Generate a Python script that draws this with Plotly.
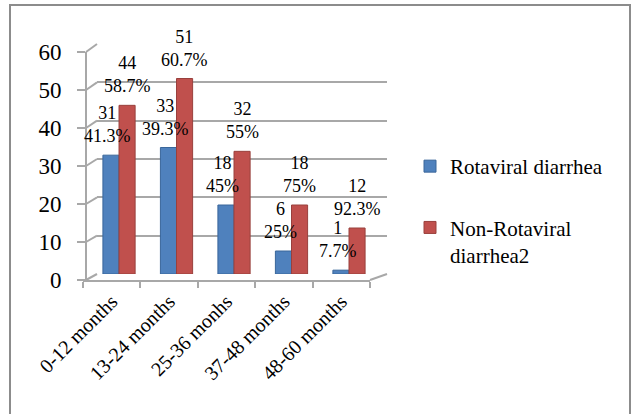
import plotly.graph_objects as go

# ---- data ----
categories = ["0-12 months", "13-24 months", "25-36 monhs", "37-48 months", "48-60 months"]
rota_counts = [31, 33, 18, 6, 1]
rota_pct = ["41.3%", "39.3%", "45%", "25%", "7.7%"]
nonrota_counts = [44, 51, 32, 18, 12]
nonrota_pct = ["58.7%", "60.7%", "55%", "75%", "92.3%"]
series_names = ["Rotaviral diarrhea", "Non-Rotaviral<br>diarrhea2"]
y_ticks = [0, 10, 20, 30, 40, 50, 60]

# ---- page / plot-area geometry (pixels) ----
W, H = 632, 414
L, R, T, B = 80, 237, 40, 130
PW, PH = W - L - R, H - T - B


def fx(px):
    return (px - L) / PW


def fy(py):
    return (H - B - py) / PH


BLUE, BLUE_EDGE = "#4F81BD", "#3A669A"
RED, RED_EDGE = "#C0504D", "#99403D"
GRID = "#a8a8a8"
FONT = "Liberation Serif"

fig = go.Figure()
fig.add_trace(go.Bar(
    x=categories, y=rota_counts, name=series_names[0], legendgroup="a",
    marker=dict(color=BLUE, line=dict(color=BLUE_EDGE, width=1)),
    hoverinfo="skip",
))
fig.add_trace(go.Bar(
    x=categories, y=nonrota_counts, name=series_names[1], legendgroup="b",
    marker=dict(color=RED, line=dict(color=RED_EDGE, width=1)),
    hoverinfo="skip",
))
# carrier trace for the front (labelled) axes
fig.add_trace(go.Scatter(
    x=categories, y=[0] * len(categories), xaxis="x2", yaxis="y2",
    mode="markers", marker=dict(opacity=0), showlegend=False, hoverinfo="skip",
))

# data labels: count and share above each bar
annotations = []
for i in range(len(categories)):
    annotations.append(dict(
        x=i - 0.14, y=rota_counts[i], xref="x", yref="y",
        text=f"{rota_counts[i]}<br>{rota_pct[i]}", showarrow=False,
        yanchor="bottom", xshift=-3, yshift=7,
        font=dict(family=FONT, size=18, color="black"),
    ))
    annotations.append(dict(
        x=i + 0.14, y=nonrota_counts[i], xref="x", yref="y",
        text=f"{nonrota_counts[i]}<br>{nonrota_pct[i]}", showarrow=False,
        yanchor="bottom", xshift=0, yshift=7,
        font=dict(family=FONT, size=18, color="black"),
    ))

# wall / floor edges of the box frame
shapes = []
front_x, back_x = 86, 97
front0, back0 = 280, 274
step_front, step_back = 228 / 60, 230 / 60
for v in y_ticks:
    yf = front0 - v * step_front
    yb = back0 - v * step_back
    shapes.append(dict(type="line", xref="paper", yref="paper",
                       x0=fx(front_x), y0=fy(yf), x1=fx(back_x), y1=fy(yb),
                       line=dict(color=GRID, width=2)))
shapes.append(dict(type="line", xref="paper", yref="paper",
                   x0=fx(370), y0=fy(front0), x1=fx(387), y1=fy(back0),
                   line=dict(color=GRID, width=2)))
# outer chart border
shapes.append(dict(type="rect", xref="paper", yref="paper",
                   x0=fx(10), y0=fy(420), x1=fx(630), y1=fy(5),
                   line=dict(color="#8c8c8c", width=2), fillcolor="rgba(0,0,0,0)"))

fig.update_layout(
    width=W, height=H,
    margin=dict(l=L, r=R, t=T, b=B, pad=0),
    paper_bgcolor="white", plot_bgcolor="rgba(0,0,0,0)",
    barmode="group", bargap=0.44, bargroupgap=0,
    showlegend=True,
    legend=dict(
        x=fx(410), y=fy(146), xanchor="left", yanchor="top",
        font=dict(family=FONT, size=21, color="black"),
        traceorder="grouped", tracegroupgap=31, valign="top",
        bgcolor="rgba(0,0,0,0)",
    ),
    xaxis=dict(
        domain=[fx(97), fx(387)], range=[-0.383, 4.661],
        showticklabels=False, showgrid=False, zeroline=False, showline=False,
        ticks="", fixedrange=True,
    ),
    yaxis=dict(
        domain=[fy(274), fy(44)], range=[0, 60], tickvals=y_ticks,
        showticklabels=False, showgrid=True, gridcolor=GRID, gridwidth=2,
        zeroline=False, showline=False, ticks="", fixedrange=True,
    ),
    # front edge axes carrying the tick labels (own subplot, own domain)
    xaxis2=dict(
        anchor="y2", domain=[fx(83), fx(370)], range=[-0.5, 4.5],
        showgrid=False, zeroline=False, showline=True, linecolor=GRID, linewidth=2,
        ticks="outside", tickson="boundaries", ticklen=6, tickcolor=GRID, tickwidth=2,
        tickangle=-45, tickfont=dict(family=FONT, size=20, color="black"),
        fixedrange=True,
    ),
    yaxis2=dict(
        anchor="free", position=fx(86),
        domain=[fy(280), fy(52)], range=[0, 60], tickvals=y_ticks,
        showgrid=False, zeroline=False, showline=True, linecolor=GRID, linewidth=2,
        ticks="outside", ticklen=8, tickcolor=GRID, tickwidth=2,
        ticklabelstandoff=11,
        tickfont=dict(family=FONT, size=23, color="black"),
        fixedrange=True,
    ),
    annotations=annotations,
    shapes=shapes,
)

fig.write_html("out.html")
